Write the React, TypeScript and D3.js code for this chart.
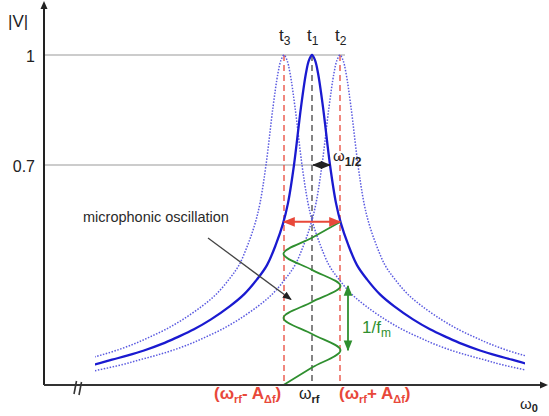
import React from "react";
import * as d3 from "d3";

// Resonance profile (offset from ω_rf, |V|)
const profileOffset = [0, 3, 6, 11, 18, 24, 29, 36, 45, 55, 68, 82, 101, 118, 135, 150, 168, 185, 200, 217, 245];
const profileV = [1, 0.986, 0.951, 0.858, 0.7, 0.596, 0.54, 0.484, 0.427, 0.388, 0.347, 0.315, 0.279, 0.252, 0.23, 0.212, 0.194, 0.18, 0.169, 0.156, 0.139];

// detuning of each curve (t1 solid, t2, t3 dotted)
const curveNames = ["t1", "t2", "t3"];
const curveShift = [0, 28, -28];

// y tick labels
const yTicks = [1, 0.7];

// microphonic oscillation extrema (|V| level, side)
const waveV = [0.545, 0.458, 0.37, 0.283, 0.195, 0.1];
const waveSide = [1, -1, 1, -1, 1, -1];
const waveAmp = 28.5;

const halfWidth = 18;
const redArrowV = 0.545;
const periodArrow = { x: 36, v0: 0.37, v1: 0.195 };
const microArrow = { x0: -104, v0: 0.501, x1: -21, v1: 0.333 };

const W = 549;
const H = 416;
const FONT = "'Liberation Sans', Arial, Helvetica, sans-serif";
const RED = "#e8483a";
const GREEN = "#2f8f2f";
const BLUE = "#1a1ad0";
const DOT = "#5a5ae0";

export default function App() {
  const x = d3.scaleLinear().domain([-268, 236]).range([44, 548]);
  const y = d3.scaleLinear().domain([0.1, 1]).range([385, 55]);

  const fullProfile: [number, number][] = [];
  for (let i = profileOffset.length - 1; i > 0; i--) fullProfile.push([-profileOffset[i], profileV[i]]);
  for (let i = 0; i < profileOffset.length; i++) fullProfile.push([profileOffset[i], profileV[i]]);

  const line = d3
    .line<[number, number]>()
    .x((d) => x(d[0]))
    .y((d) => y(d[1]))
    .curve(d3.curveCatmullRom.alpha(0.5));

  const wavePts: [number, number][] = [];
  waveV.forEach((v, i) => {
    wavePts.push([waveSide[i] * waveAmp, v]);
    if (i < waveV.length - 1) wavePts.push([0, (v + waveV[i + 1]) / 2]);
  });
  const waveLine = d3
    .line<[number, number]>()
    .x((d) => x(d[0]))
    .y((d) => y(d[1]))
    .curve(d3.curveMonotoneY);

  const x0 = x(-268);
  const yBase = y(0.1);
  const xc = x(0);

  return (
    <svg width={W} height={H} style={{ position: "absolute", left: 0, top: 0, background: "#fff" }} fontFamily={FONT}>
      <defs>
        <clipPath id="clipC">
          <rect x={95} y={0} width={430} height={H} />
        </clipPath>
        <marker id="arrBlack" viewBox="0 0 10 10" refX="9" refY="5" markerWidth="7" markerHeight="7" orient="auto-start-reverse">
          <path d="M0,1 L10,5 L0,9 z" fill="#222" />
        </marker>
        <marker id="arrRed" viewBox="0 0 10 10" refX="9" refY="5" markerWidth="6" markerHeight="6" orient="auto-start-reverse">
          <path d="M0,1 L10,5 L0,9 z" fill={RED} />
        </marker>
        <marker id="arrGreen" viewBox="0 0 10 10" refX="9" refY="5" markerWidth="6" markerHeight="6" orient="auto-start-reverse">
          <path d="M0,1 L10,5 L0,9 z" fill={GREEN} />
        </marker>
        <marker id="arrGray" viewBox="0 0 10 10" refX="9" refY="5" markerWidth="7" markerHeight="7" orient="auto">
          <path d="M0,1 L10,5 L0,9 z" fill="#222" />
        </marker>
      </defs>

      {/* horizontal reference lines */}
      <line x1={x0} x2={x(33)} y1={y(1)} y2={y(1)} stroke="#999" strokeWidth={1} />
      <line x1={x0} x2={xc} y1={y(0.7)} y2={y(0.7)} stroke="#999" strokeWidth={1} />

      {/* vertical dashed lines */}
      {[-28, 28].map((s) => (
        <line key={s} x1={x(s)} x2={x(s)} y1={y(1)} y2={yBase} stroke={RED} strokeWidth={1.3} strokeDasharray="6,4" />
      ))}
      <line x1={xc} x2={xc} y1={y(1)} y2={yBase} stroke="#444" strokeWidth={1.3} strokeDasharray="6,4" />

      {/* resonance curves */}
      <g clipPath="url(#clipC)">
        {curveShift.map((s, i) =>
          i === 0 ? null : (
            <path
              key={curveNames[i]}
              d={line(fullProfile.map((p) => [p[0] + s, p[1]] as [number, number])) || ""}
              fill="none"
              stroke={DOT}
              strokeWidth={1.5}
              strokeDasharray="1.5,1.5"
            />
          )
        )}
        <path d={line(fullProfile) || ""} fill="none" stroke={BLUE} strokeWidth={2.3} />
      </g>

      {/* microphonic oscillation wave */}
      <path d={waveLine(wavePts) || ""} fill="none" stroke={GREEN} strokeWidth={1.8} />

      {/* red bandwidth arrow */}
      <line x1={x(-28)} x2={x(28)} y1={y(redArrowV)} y2={y(redArrowV)} stroke={RED} strokeWidth={2} markerStart="url(#arrRed)" markerEnd="url(#arrRed)" />

      {/* half bandwidth arrow */}
      <line x1={xc + 1} x2={x(halfWidth)} y1={y(0.7)} y2={y(0.7)} stroke="#222" strokeWidth={1.5} markerStart="url(#arrBlack)" markerEnd="url(#arrBlack)" />

      {/* period arrow */}
      <line x1={x(periodArrow.x)} x2={x(periodArrow.x)} y1={y(periodArrow.v0)} y2={y(periodArrow.v1)} stroke={GREEN} strokeWidth={1.8} markerStart="url(#arrGreen)" markerEnd="url(#arrGreen)" />

      {/* microphonic annotation arrow */}
      <line x1={x(microArrow.x0)} y1={y(microArrow.v0)} x2={x(microArrow.x1)} y2={y(microArrow.v1)} stroke="#444" strokeWidth={1.3} markerEnd="url(#arrGray)" />

      {/* axes */}
      <line x1={x0} x2={x0} y1={yBase} y2={6} stroke="#222" strokeWidth={2} />
      <path d={`M${x0 - 3.5},9 L${x0},1 L${x0 + 3.5},9 z`} fill="#222" />
      <line x1={x0} x2={543} y1={yBase} y2={yBase} stroke="#333" strokeWidth={2} />
      <path d={`M540,${yBase - 3.5} L548,${yBase} L540,${yBase + 3.5} z`} fill="#222" />
      <line x1={74} y1={394} x2={76.5} y2={381} stroke="#333" strokeWidth={1.6} />
      <line x1={79} y1={395} x2={81.5} y2={382} stroke="#333" strokeWidth={1.6} />

      {/* y labels */}
      <text x={8} y={27} fontSize={17} fill="#222">|V|</text>
      {yTicks.map((t) => (
        <text key={t} x={35} y={y(t) + 7} fontSize={16} textAnchor="end" fill="#222">
          {String(t)}
        </text>
      ))}

      {/* t labels */}
      {curveShift.map((s, i) => (
        <text key={curveNames[i]} x={x(s) - 5} y={41} fontSize={17} fill="#222">
          t
          <tspan fontSize={12} dy={4}>{curveNames[i].slice(1)}</tspan>
        </text>
      ))}

      {/* ω1/2 */}
      <text x={333} y={161} fontSize={15} fill="#222">
        ω<tspan fontSize={12} fontWeight="bold" dy={5}>1/2</tspan>
      </text>

      {/* 1/fm */}
      <text x={362} y={333} fontSize={17} fill={GREEN}>
        1/f<tspan fontSize={12} dy={4}>m</tspan>
      </text>

      {/* microphonic oscillation */}
      <text x={83} y={222} fontSize={14.5} fill="#2a2a2a">microphonic oscillation</text>

      {/* bottom labels */}
      <text x={214} y={399} fontSize={17} fontWeight="bold" fill={RED}>
        (ω<tspan fontSize={11} dy={4}>rf</tspan>
        <tspan dy={-4}>- A</tspan>
        <tspan fontSize={11} dy={4}>Δf</tspan>
        <tspan dy={-4}>)</tspan>
      </text>
      <text x={299} y={399} fontSize={16} fill="#222">
        ω<tspan fontSize={11} fontWeight="bold" dy={4}>rf</tspan>
      </text>
      <text x={339} y={399} fontSize={17} fontWeight="bold" fill={RED}>
        (ω<tspan fontSize={11} dy={4}>rf</tspan>
        <tspan dy={-4}>+ A</tspan>
        <tspan fontSize={11} dy={4}>Δf</tspan>
        <tspan dy={-4}>)</tspan>
      </text>
      <text x={520} y={409} fontSize={15} fill="#222">
        ω<tspan fontSize={11} fontWeight="bold" dy={3}>0</tspan>
      </text>
    </svg>
  );
}
